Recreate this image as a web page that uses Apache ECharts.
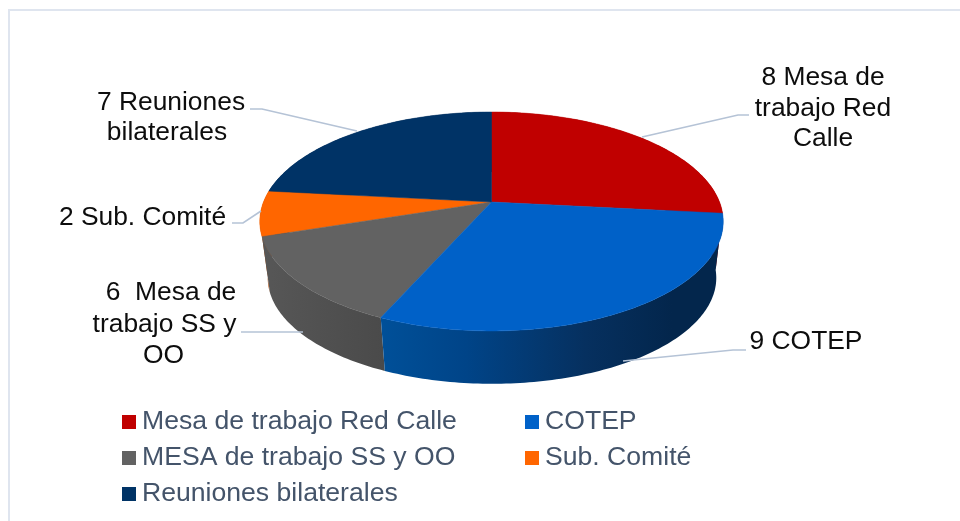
<!DOCTYPE html>
<html>
<head>
<meta charset="utf-8">
<style>html,body{margin:0;padding:0;background:#fff}#c{width:960px;height:521px}</style>
<script src="https://cdn.jsdelivr.net/npm/echarts@6/dist/echarts.min.js"></script>
</head>
<body>
<div id="c"></div>
<script>
const categories = ['Mesa de trabajo Red Calle','COTEP','MESA de trabajo SS y OO','Sub. Comité','Reuniones bilaterales'];
const sliceValues = [8,9,4,2,7];
const topColors = ['#c00000','#0061c8','#626262','#ff6600','#003366'];
const labelLines = [
  ['8 Mesa de','trabajo Red','Calle'],
  ['9 COTEP'],
  ['6  Mesa de','trabajo SS y','OO'],
  ['2 Sub. Comité'],
  ['7 Reuniones','bilaterales']
];

// layout only
const sideStops = [
  [[0,'#8a0000'],[1,'#8a0000']],
  [[0,'#005099'],[0.25,'#004488'],[0.6,'#06305f'],[0.85,'#03264c'],[1,'#03264c']],
  [[0,'#575757'],[1,'#4a4a4a']],
  [[0,'#b04500'],[1,'#b04500']],
  [[0,'#002244'],[1,'#002244']]
];
const topDisc = {cx:491.5, cy:202, A:228, B:106};
const botDisc = {cx:492, cy:259, A:220.7, B:102.6};
const k = 0.178;
const labelPos = [
  [[823,77.5],[823,108.5],[823,138.5]],
  [[806,341.5]],
  [[171,292.5],[164.5,324.5],[163.5,355.5]],
  [[142.5,217.5]],
  [[171,102.5],[167,132.5]]
];
const leaders = [
  [[642,137],[738,115],[749,115]],
  [[623,361],[733,350],[746,350]],
  [[303,332],[241,332]],
  [[261,211],[243,223],[232,223]],
  [[357,131],[262,109],[250,109]]
];

const total = sliceValues.reduce((a,b)=>a+b,0);
function proj(deg, d){
  const r = deg*Math.PI/180, w = 1 + k*Math.cos(r);
  return [d.cx + d.A*Math.sin(r)/w, d.cy - d.B*Math.cos(r)/w];
}
function arc(a0,a1,d){
  const pts=[], n=Math.max(2,Math.ceil(Math.abs(a1-a0)));
  for(let i=0;i<=n;i++) pts.push(proj(a0+(a1-a0)*i/n,d));
  return pts;
}
const series = categories.map((name,i)=>({
  type:'custom', name, coordinateSystem:'none', silent:true,
  itemStyle:{color:topColors[i]},
  data:[[sliceValues[i]]],
  renderItem:function(params,api){
    const before = sliceValues.slice(0,i).reduce((a,b)=>a+b,0);
    const a0 = before/total*360, a1 = a0 + api.value(0)/total*360;
    const side = arc(a0,a1,topDisc).concat(arc(a0,a1,botDisc).reverse());
    const top = [[topDisc.cx,topDisc.cy]].concat(arc(a0,a1,topDisc));
    const order = [1,4,3,2,5];
    return {type:'group',children:[
      {type:'polygon',z2:order[i],shape:{points:side},style:{
        fill:new echarts.graphic.LinearGradient(0,0,1,0,sideStops[i].map(s=>({offset:s[0],color:s[1]}))),
        stroke:null}},
      {type:'polygon',z2:10+order[i],shape:{points:top},style:{fill:topColors[i],stroke:topColors[i],lineWidth:0.5}}
    ]};
  }
}));

const textEls=[];
labelLines.forEach((lines,i)=>lines.forEach((t,j)=>textEls.push({
  type:'text',z:20,style:{text:t,x:labelPos[i][j][0],y:labelPos[i][j][1],fill:'#0d0d0d',
    font:'26.4px "Liberation Sans", Arial, sans-serif',align:'center',verticalAlign:'middle'}
})));
const lineEls=leaders.map(p=>({type:'polyline',z:15,shape:{points:p},style:{stroke:'#b5c3d6',lineWidth:1.6,fill:null}}));
const frame={type:'rect',z:0,shape:{x:9,y:10,width:970,height:530},style:{fill:'#fff',stroke:'#dfe5ef',lineWidth:2}};

const legendText={color:'#44546a',fontFamily:'"Liberation Sans", Arial, sans-serif',fontSize:26.6,lineHeight:30,padding:[3,0,0,1]};
const legendBase={orient:'vertical',icon:'rect',itemWidth:14,itemHeight:14,itemGap:3,padding:0,selectedMode:false,textStyle:legendText};

echarts.init(document.getElementById('c'),null,{renderer:'canvas'}).setOption({
  animation:false,
  backgroundColor:'#fff',
  legend:[
    Object.assign({left:122,top:405.5,data:[categories[0],categories[2],categories[4]]},legendBase),
    Object.assign({left:525,top:405.5,data:[categories[1],categories[3]]},legendBase)
  ],
  graphic:{elements:[frame].concat(lineEls,textEls)},
  series
});
</script>
</body>
</html>
